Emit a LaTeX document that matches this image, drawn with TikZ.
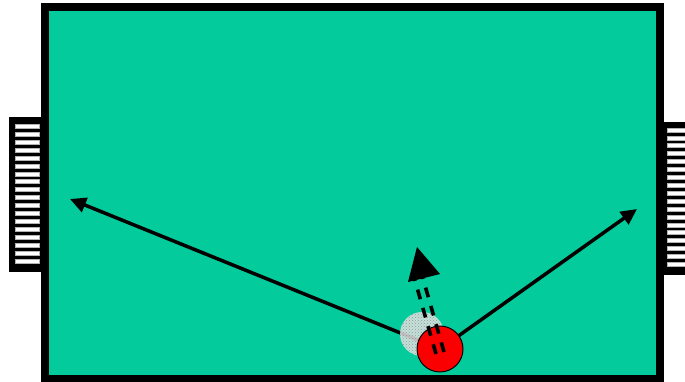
\documentclass[tikz,border=0pt]{standalone}
\usetikzlibrary{arrows.meta,patterns}
\definecolor{field}{RGB}{3,203,155}
\definecolor{ballred}{RGB}{250,0,0}
\tikzset{
  shot/.style={line width=3.5pt,-{Triangle[length=16pt,width=15pt]}},
  goalframe/.style={fill=black},
  stripe/.style={fill=white,draw=gray!60,line width=0.6pt},
  dashpair/.style={line width=3.6pt,dash pattern=on 10pt off 9pt},
}
\begin{document}
\begin{tikzpicture}[x=1pt,y=-1pt]
\useasboundingbox (0,0) rectangle (685,382);
% goals
\fill[goalframe] (9,117) rectangle (45,272);
\foreach \i in {0,...,17} {
  \path[stripe] (15,{124.5+7.9*\i}) rectangle (39,{128.5+7.9*\i});
}
\fill[goalframe] (659,122) rectangle (686,275);
\foreach \i in {0,...,17} {
  \path[stripe] (667,{128+7.9*\i}) rectangle (686,{132+7.9*\i});
}
% field
\draw[line width=8pt,fill=field] (45,7) rectangle (659.5,379);
% ball positions
\coordinate (ball) at (440,349);
\coordinate (ghost) at (422,334);
\coordinate (leftT) at (70,199);
\coordinate (rightT) at (637,209);
\draw[shot] (ball) -- (leftT);
\draw[shot] (ball) -- (rightT);
% ghost ball
\fill[white!80!gray,opacity=0.85] (ghost) circle (22);
\fill[pattern=crosshatch dots,pattern color=gray!80] (ghost) circle (22);
\fill[gray!80,opacity=0.45] (ghost) ++(12,9) circle (13);
% dashed double arrow
\coordinate (dA1) at (444,352);
\coordinate (dB1) at (422,275);
\coordinate (dA2) at (436,354);
\coordinate (dB2) at (414,277);
% red ball
\draw[fill=ballred,line width=1pt] (ball) circle (23);
\draw[dashpair] (dA1) -- (dB1);
\draw[dashpair] (dA2) -- (dB2);
\coordinate (tip) at (417,247);
\coordinate (hb1) at (408,282);
\coordinate (hb2) at (440,274);
\fill (tip) -- (hb2) -- (hb1) -- cycle;
\end{tikzpicture}
\end{document}
